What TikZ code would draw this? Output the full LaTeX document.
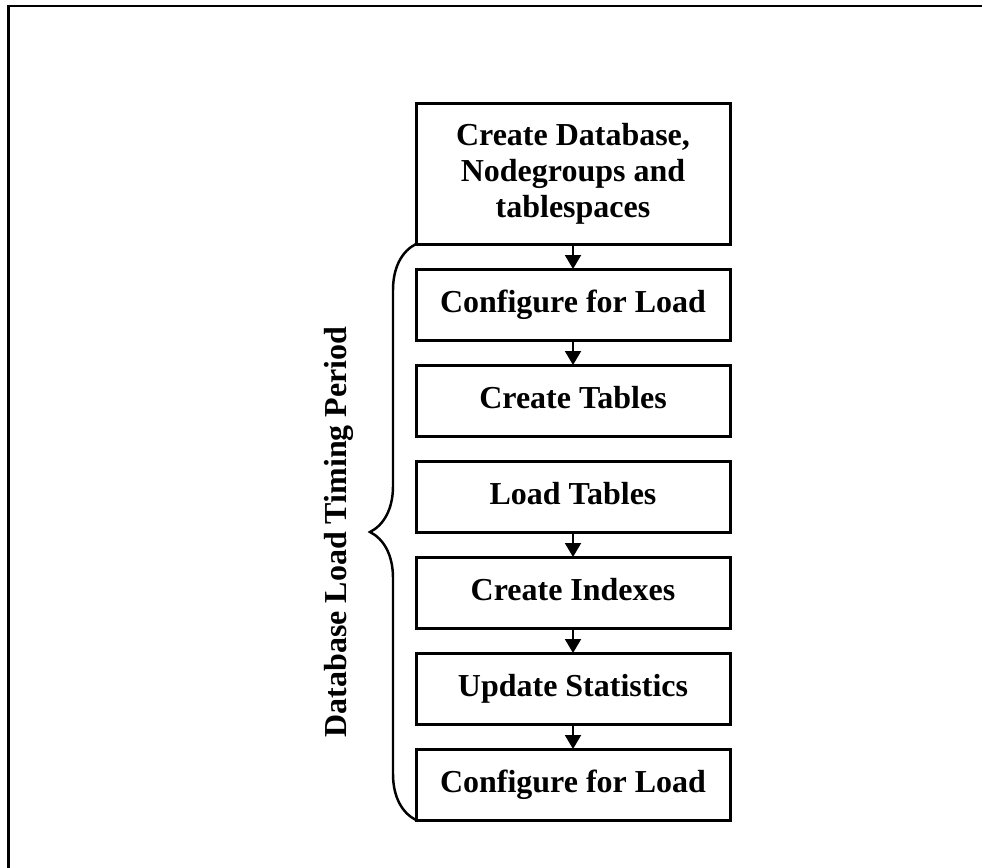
\documentclass[tikz,border=0pt]{standalone}
\usepackage{fontspec}
\setmainfont{Liberation Serif}
\usetikzlibrary{chains,positioning,arrows.meta,decorations.pathreplacing,calc}

\begin{document}
\begin{tikzpicture}

        \edef\sizestep{1.42cm}
        \tikzstyle{loadbox}=[draw,line width=1.7pt,minimum width=6.28cm,minimum height=\sizestep,outer sep=0pt,inner sep=0pt,font=\bfseries\fontsize{18.2}{20.5}\selectfont]
        \tikzstyle{loadstep}=[loadbox,text height=0.44cm,text depth=0.14cm]
        \tikzstyle{loadarrow}=[line width=1.1pt,-{Triangle[width=0.32cm,length=0.28cm]}]

        %% Page frame (cut at right and bottom)
        \useasboundingbox (0,0) rectangle (19.64,-17.34);
        \begin{scope}
            \clip (0,0) rectangle (19.64,-17.34);
            \draw[line width=1.7pt] (0.17,-0.12) rectangle (20.5,-18);
        \end{scope}

        %% Steps of the load
        \begin{scope}[start chain=1 going below,node distance=0.5cm]
            \node [on chain=1,loadbox,minimum height=2.82cm,align=center] (setup) at (11.46,-3.47) {Create Database,\\Nodegroups and\\tablespaces};
            \node [on chain=1,loadstep] (config) {Configure for Load};
            \node [on chain=1,loadstep] (tables) {Create Tables};
            \node [on chain=1,loadstep] (load) {Load Tables};
            \node [on chain=1,loadstep] (indexes) {Create Indexes};
            \node [on chain=1,loadstep] (stats) {Update Statistics};
            \node [on chain=1,loadstep] (reconfig) {Configure for Load};
        \end{scope}

        \draw[loadarrow] (setup) -- (config);
        \draw[loadarrow] (config) -- (tables);
        % no arrow between tables and load
        \draw[loadarrow] (load) -- (indexes);
        \draw[loadarrow] (indexes) -- (stats);
        \draw[loadarrow] (stats) -- (reconfig);

        %% Timing period
        \draw[line width=1.4pt,decorate,decoration={brace,amplitude=0.92cm}] (reconfig.south west) -- (setup.south west);
        \node[rotate=90,anchor=south,inner sep=0pt,font=\bfseries\fontsize{18.2}{20.5}\selectfont] (period) at ($(setup.south west)!0.5!(reconfig.south west)+(-1.24,0)$) {Database Load Timing Period};

\end{tikzpicture}
\end{document}
